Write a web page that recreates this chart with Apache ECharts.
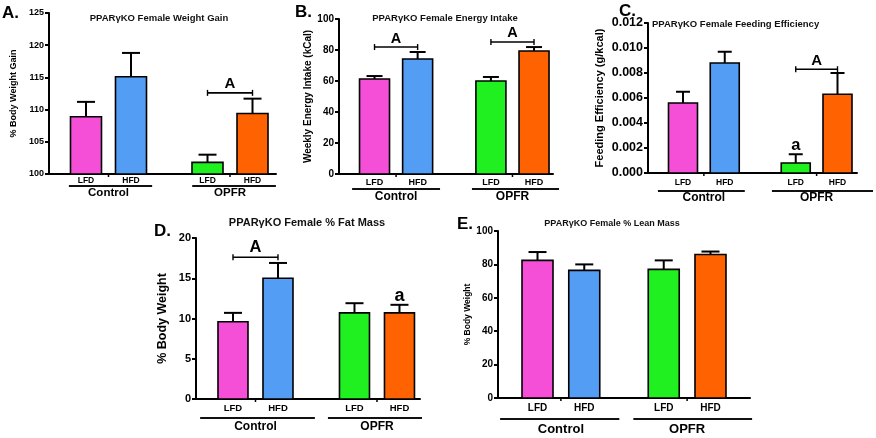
<!DOCTYPE html>
<html><head><meta charset="utf-8">
<script src="https://cdn.jsdelivr.net/npm/echarts@6/dist/echarts.min.js"></script>
<style>html,body{margin:0;padding:0;background:#fff}#c{width:876px;height:438px}</style>
</head><body><div id="c"></div>
<script>
// ---------- DATA ----------
const groupNames = ['Control', 'OPFR'];
const dietLabels = ['LFD', 'HFD', 'LFD', 'HFD'];

// A. Weight gain (% body weight gain)
const weightGainMean = [108.9, 115.1, 101.8, 109.4];
const weightGainSem  = [2.3, 3.7, 1.2, 2.3];
const weightGainTicks = [100, 105, 110, 115, 120, 125];
const weightGainBrackets = [[2, 3, 112.6, 'A']];
const weightGainLetters = [];

// B. Weekly energy intake (kCal)
const energyMean = [61.3, 74.2, 60.0, 79.4];
const energySem  = [1.9, 4.5, 2.6, 2.5];
const energyTicks = [0, 20, 40, 60, 80, 100];
const energyBrackets = [[0, 1, 81.9, 'A'], [2, 3, 85.2, 'A']];
const energyLetters = [];

// C. Feeding efficiency (g/kcal)
const feedEffMean = [0.0056, 0.0088, 0.0008, 0.0063];
const feedEffSem  = [0.0009, 0.0009, 0.0007, 0.0017];
const feedEffTicks = [0, 0.002, 0.004, 0.006, 0.008, 0.010, 0.012];
const feedEffBrackets = [[2, 3, 0.0083, 'A']];
const feedEffLetters = [[2, 'a']];

// D. % Fat mass
const fatMean = [9.6, 15.0, 10.7, 10.7];
const fatSem  = [1.1, 1.9, 1.2, 1.0];
const fatTicks = [0, 5, 10, 15, 20];
const fatBrackets = [[0, 1, 17.6, 'A']];
const fatLetters = [[3, 'a']];

// E. % Lean mass
const leanMean = [82.4, 76.4, 77.0, 85.9];
const leanSem  = [5.0, 3.6, 5.4, 1.8];
const leanTicks = [0, 20, 40, 60, 80, 100];
const leanBrackets = [];
const leanLetters = [];

// ---------- LAYOUT / STYLE ----------
const FONT = '"Liberation Sans", Arial, sans-serif';
const barColors = ['#F54FD7', '#539DF5', '#20F020', '#FF6200'];
const barSlots = [1, 2, 3.7, 4.7];
const groupCenters = [1.5, 4.2];

const panels = [
  { mean: weightGainMean, sem: weightGainSem, ticks: weightGainTicks, brackets: weightGainBrackets, letters: weightGainLetters,
    grid: {left: 49, top: 13, width: 227, height: 161}, xMin: 0.178, xMax: 5.222,
    groupExt: [[0.62, 2.47], [3.36, 5.22]], barW: 31, cap: 18, sigFont: 15,
    tickFont: 9, yName: '% Body Weight Gain', nameFont: 9, nameGap: 31,
    dietFont: 8.5, dietDy: 7, lineDy: 12, groupFont: 11.5, groupDy: 19,
    title: {text: 'PPARγKO Female Weight Gain', x: 159, y: 18, size: 9.5, align: 'center'},
    letter: {text: 'A.', x: 2, y: 13, size: 17} },
  { mean: energyMean, sem: energySem, ticks: energyTicks, brackets: energyBrackets, letters: energyLetters,
    grid: {left: 339, top: 19, width: 214, height: 155}, xMin: 0.176, xMax: 5.14,
    groupExt: [[0.48, 2.52], [3.26, 5.28]], barW: 30, cap: 16, sigFont: 14.5,
    tickFont: 10, yName: 'Weekly Energy Intake (kCal)', nameFont: 10, nameGap: 22,
    dietFont: 9, dietDy: 9, lineDy: 15, groupFont: 12, groupDy: 23,
    title: {text: 'PPARγKO Female Energy Intake', x: 445, y: 18, size: 9.5, align: 'center'},
    letter: {text: 'B.', x: 295, y: 12, size: 17} },
  { mean: feedEffMean, sem: feedEffSem, ticks: feedEffTicks, brackets: feedEffBrackets, letters: feedEffLetters,
    grid: {left: 648, top: 23, width: 209, height: 150}, xMin: 0.162, xMax: 5.167,
    groupExt: [[0.4, 2.48], [3.13, 5.55]], barW: 29, cap: 14, sigFont: 15,
    tickFont: 12.5, yName: 'Feeding Efficiency (g/kcal)', nameFont: 11, nameGap: 43,
    dietFont: 8.5, dietDy: 10, lineDy: 18, groupFont: 12, groupDy: 25,
    fmt: v => v.toFixed(3),
    title: {text: 'PPARγKO Female Feeding Efficiency', x: 652, y: 24, size: 9.5, align: 'left'},
    letter: {text: 'C.', x: 619, y: 11, size: 17} },
  { mean: fatMean, sem: fatSem, ticks: fatTicks, brackets: fatBrackets, letters: fatLetters,
    grid: {left: 196, top: 238, width: 224, height: 161}, xMin: 0.178, xMax: 5.156,
    groupExt: [[0.27, 2.82], [3.11, 5.2]], barW: 30, cap: 18, sigFont: 16.5,
    tickFont: 11, yName: '% Body Weight', nameFont: 12.5, nameGap: 27,
    dietFont: 9.5, dietDy: 9, lineDy: 19, groupFont: 12, groupDy: 28,
    title: {text: 'PPARγKO Female % Fat Mass', x: 307, y: 223, size: 11, align: 'center'},
    letter: {text: 'D.', x: 154, y: 231, size: 17} },
  { mean: leanMean, sem: leanSem, ticks: leanTicks, brackets: leanBrackets, letters: leanLetters,
    grid: {left: 498, top: 231, width: 252, height: 167}, xMin: 0.155, xMax: 5.545,
    groupExt: [[0.2, 2.75], [3.05, 5.59]], barW: 31, cap: 18, sigFont: 16,
    tickFont: 10, yName: '% Body Weight', nameFont: 8.5, nameGap: 26,
    dietFont: 10, dietDy: 10, lineDy: 21, groupFont: 13, groupDy: 31,
    title: {text: 'PPARγKO Female % Lean Mass', x: 612, y: 224, size: 9, align: 'center'},
    letter: {text: 'E.', x: 457, y: 224, size: 17} }
];

const font = (size) => 'bold ' + size + 'px ' + FONT;
const blk = '#000';

const grids = [], xAxes = [], yAxes = [], series = [], graphics = [];

panels.forEach((p, pi) => {
  const yMin = p.ticks[0], yMax = p.ticks[p.ticks.length - 1];
  const interval = p.ticks[1] - p.ticks[0];
  grids.push(Object.assign({containLabel: false}, p.grid));
  xAxes.push({
    type: 'value', gridIndex: pi, min: p.xMin, max: p.xMax,
    axisLine: {show: true, onZero: false, lineStyle: {color: blk, width: 2}},
    axisTick: {show: false}, axisLabel: {show: false}, splitLine: {show: false}
  });
  yAxes.push({
    type: 'value', gridIndex: pi, min: yMin, max: yMax, interval: interval,
    axisLine: {show: true, onZero: false, lineStyle: {color: blk, width: 2}},
    axisTick: {show: true, length: 4, lineStyle: {color: blk, width: 2}},
    axisLabel: {color: blk, fontWeight: 'bold', fontSize: p.tickFont, fontFamily: FONT, margin: 5,
      formatter: p.fmt ? p.fmt : (v => String(v))},
    splitLine: {show: false},
    name: p.yName, nameLocation: 'middle', nameGap: p.nameGap,
    nameTextStyle: {color: blk, fontWeight: 'bold', fontSize: p.nameFont, fontFamily: FONT}
  });

  // bars + error bars + diet labels
  series.push({
    type: 'custom', xAxisIndex: pi, yAxisIndex: pi, clip: false,
    data: p.mean.map((m, i) => [barSlots[i], m, p.sem[i], i]),
    encode: {x: 0, y: 1},
    renderItem: (params, api) => {
      const x = api.value(0), m = api.value(1), e = api.value(2), idx = api.value(3);
      const base = api.coord([x, yMin]);
      const top = api.coord([x, m]);
      const et = api.coord([x, m + e]);
      const w = p.barW;
      return {type: 'group', children: [
        {type: 'line', shape: {x1: top[0], y1: top[1], x2: et[0], y2: et[1]}, style: {stroke: blk, lineWidth: 2}},
        {type: 'line', shape: {x1: et[0] - p.cap / 2, y1: et[1], x2: et[0] + p.cap / 2, y2: et[1]}, style: {stroke: blk, lineWidth: 2}},
        {type: 'rect', shape: {x: base[0] - w / 2, y: top[1], width: w, height: base[1] - top[1]},
          style: {fill: barColors[idx], stroke: blk, lineWidth: 1.6}},
        {type: 'text', x: base[0], y: base[1] + p.dietDy,
          style: {text: dietLabels[idx], font: font(p.dietFont), fill: blk, align: 'center', verticalAlign: 'middle'}}
      ]};
    }
  });

  // group underline + group names + small axis tick
  series.push({
    type: 'custom', xAxisIndex: pi, yAxisIndex: pi, clip: false,
    data: groupNames.map((g, gi) => [p.groupExt[gi][0], yMin, p.groupExt[gi][1], groupCenters[gi], gi]),
    encode: {x: [0, 2], y: 1},
    renderItem: (params, api) => {
      const a = api.coord([api.value(0), api.value(1)]);
      const b = api.coord([api.value(2), api.value(1)]);
      const c = api.coord([api.value(3), api.value(1)]);
      const gi = api.value(4);
      return {type: 'group', children: [
        {type: 'line', shape: {x1: a[0], y1: a[1] + p.lineDy, x2: b[0], y2: b[1] + p.lineDy}, style: {stroke: '#111', lineWidth: 1.8}},
        {type: 'line', shape: {x1: c[0], y1: c[1], x2: c[0], y2: c[1] + 3}, style: {stroke: blk, lineWidth: 1.5}},
        {type: 'text', x: c[0], y: c[1] + p.groupDy,
          style: {text: groupNames[gi], font: font(p.groupFont), fill: blk, align: 'center', verticalAlign: 'middle'}}
      ]};
    }
  });

  // significance brackets
  if (p.brackets.length) {
    series.push({
      type: 'custom', xAxisIndex: pi, yAxisIndex: pi, clip: false,
      data: p.brackets.map((b, bi) => [barSlots[b[0]], b[2], barSlots[b[1]], bi]),
      encode: {x: [0, 2], y: 1},
      renderItem: (params, api) => {
        const a = api.coord([api.value(0), api.value(1)]);
        const b = api.coord([api.value(2), api.value(1)]);
        const bi = api.value(3);
        return {type: 'group', children: [
          {type: 'line', shape: {x1: a[0], y1: a[1], x2: b[0], y2: b[1]}, style: {stroke: blk, lineWidth: 1.6}},
          {type: 'line', shape: {x1: a[0], y1: a[1] - 3, x2: a[0], y2: a[1] + 3}, style: {stroke: blk, lineWidth: 1.4}},
          {type: 'line', shape: {x1: b[0], y1: b[1] - 3, x2: b[0], y2: b[1] + 3}, style: {stroke: blk, lineWidth: 1.4}},
          {type: 'text', x: (a[0] + b[0]) / 2, y: a[1] - 1,
            style: {text: p.brackets[bi][3], font: font(p.sigFont), fill: blk, align: 'center', verticalAlign: 'bottom'}}
        ]};
      }
    });
  }

  // lowercase letters above bars
  if (p.letters.length) {
    series.push({
      type: 'custom', xAxisIndex: pi, yAxisIndex: pi, clip: false,
      data: p.letters.map((l, li) => [barSlots[l[0]], p.mean[l[0]] + p.sem[l[0]], li]),
      encode: {x: 0, y: 1},
      renderItem: (params, api) => {
        const c = api.coord([api.value(0), api.value(1)]);
        return {type: 'text', x: c[0], y: c[1],
          style: {text: p.letters[api.value(2)][1], font: font(p.sigFont + 1.5), fill: blk, align: 'center', verticalAlign: 'bottom'}};
      }
    });
  }

  graphics.push({type: 'text', x: p.title.x, y: p.title.y,
    style: {text: p.title.text, font: font(p.title.size), fill: '#111', align: p.title.align, verticalAlign: 'middle'}});
  graphics.push({type: 'text', x: p.letter.x, y: p.letter.y,
    style: {text: p.letter.text, font: font(p.letter.size), fill: blk, align: 'left', verticalAlign: 'middle'}});
});

const chart = echarts.init(document.getElementById('c'), null, {renderer: 'canvas'});
chart.setOption({
  animation: false,
  backgroundColor: '#fff',
  grid: grids, xAxis: xAxes, yAxis: yAxes, series: series, graphic: graphics
});
</script>
</body></html>
